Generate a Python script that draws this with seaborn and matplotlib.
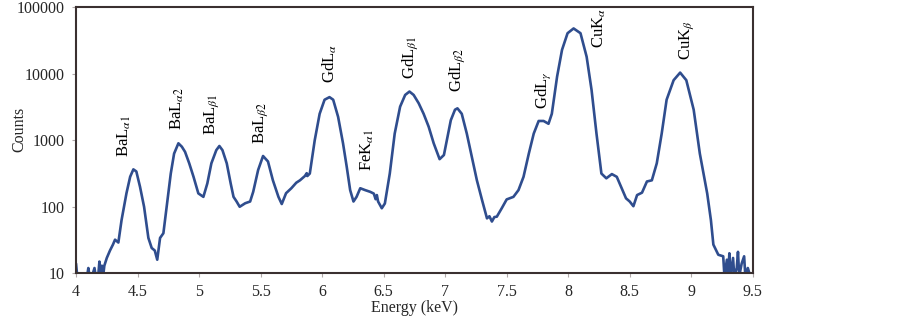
import numpy as np
import pandas as pd
import matplotlib
matplotlib.use("Agg")
import matplotlib.pyplot as plt
import seaborn as sns
from matplotlib.ticker import FixedLocator, FixedFormatter, NullLocator

energy = [4.00, 4.01, 4.03, 4.05, 4.07, 4.09, 4.10, 4.11, 4.13, 4.15, 4.16, 4.18, 4.19, 4.20,
          4.21, 4.22, 4.23, 4.25, 4.276, 4.30, 4.317, 4.344, 4.37, 4.41, 4.44, 4.466, 4.49, 4.52,
          4.553, 4.588, 4.615, 4.64, 4.66, 4.683, 4.71, 4.737, 4.77, 4.797, 4.832, 4.86, 4.886,
          4.92, 4.955, 4.994, 5.035, 5.067, 5.10, 5.14, 5.165, 5.19, 5.225, 5.257, 5.28, 5.305,
          5.33, 5.375, 5.415, 5.44, 5.48, 5.52, 5.56, 5.60, 5.645, 5.672, 5.707, 5.75, 5.79, 5.82,
          5.86, 5.875, 5.88, 5.90, 5.94, 5.98, 6.02, 6.06, 6.09, 6.13, 6.17, 6.20, 6.228, 6.255,
          6.28, 6.31, 6.35, 6.39, 6.42, 6.435, 6.445, 6.455, 6.485, 6.51, 6.55, 6.59, 6.634, 6.675,
          6.71, 6.744, 6.785, 6.825, 6.866, 6.907, 6.955, 6.99, 7.014, 7.046, 7.08, 7.10, 7.135,
          7.176, 7.217, 7.258, 7.30, 7.34, 7.36, 7.38, 7.40, 7.42, 7.44, 7.46, 7.50, 7.555, 7.596,
          7.637, 7.68, 7.72, 7.76, 7.80, 7.84, 7.867, 7.91, 7.95, 7.995, 8.044, 8.10, 8.15, 8.19,
          8.23, 8.27, 8.31, 8.355, 8.395, 8.435, 8.47, 8.50, 8.53, 8.56, 8.60, 8.64, 8.68, 8.72,
          8.76, 8.80, 8.857, 8.91, 8.96, 9.02, 9.07, 9.13, 9.16, 9.18, 9.22, 9.26, 9.27, 9.29,
          9.30, 9.31, 9.32, 9.34, 9.35, 9.37, 9.38, 9.39, 9.41, 9.43, 9.44, 9.46, 9.48, 9.50]
counts = [14, 9, 10, 9, 10, 9, 12, 9, 9, 12, 9, 9, 15, 9,
          13, 9, 13, 17, 22, 27, 32, 29, 63, 160, 283, 365, 340, 200,
          100, 34, 24, 22, 16, 34, 40, 100, 316, 630, 900, 800, 670,
          450, 282, 159, 141, 224, 450, 710, 820, 710, 450, 224, 141, 120,
          100, 113, 120, 168, 357, 580, 480, 250, 141, 110, 160, 190, 230, 250,
          290, 320, 290, 316, 1000, 2500, 4070, 4450, 4070, 2250, 900, 400, 178, 120,
          141, 190, 178, 168, 158, 130, 150, 120, 95, 112, 316, 1260, 3200, 4800,
          5400, 4800, 3600, 2500, 1600, 900, 520, 600, 1000, 2000, 2880, 3020, 2500,
          1260, 560, 250, 126, 67, 72, 60, 70, 71, 82, 95, 129, 141, 178,
          282, 630, 1260, 1950, 1950, 1770, 2500, 9100, 22900, 40700, 48000, 40700, 18000, 5700,
          1260, 316, 268, 310, 282, 190, 134, 120, 102, 150, 163, 240, 250, 450,
          1260, 4070, 8000, 10400, 8000, 2880, 630, 158, 63, 27, 19, 18, 9, 16,
          9, 20, 9, 17, 9, 12, 21, 9, 14, 18, 9, 12, 9, 10]

peak_labels = [r"BaL$_{\alpha1}$", r"BaL$_{\alpha2}$", r"BaL$_{\beta1}$", r"BaL$_{\beta2}$",
               r"GdL$_{\alpha}$", r"FeK$_{\alpha1}$", r"GdL$_{\beta1}$", r"GdL$_{\beta2}$",
               r"GdL$_{\gamma}$", r"CuK$_{\alpha}$", r"CuK$_{\beta}$"]
label_x = [4.39, 4.82, 5.10, 5.50, 6.06, 6.37, 6.72, 7.10, 7.80, 8.25, 8.96]
label_y = [560, 1430, 1200, 875, 7200, 340, 8300, 5400, 3000, 24000, 16000]

x_ticks = [4, 4.5, 5, 5.5, 6, 6.5, 7, 7.5, 8, 8.5, 9, 9.5]
x_tick_labels = ["4", "4.5", "5", "5.5", "6", "6.5", "7", "7.5", "8", "8.5", "9", "9.5"]
y_ticks = [10, 100, 1000, 10000, 100000]
y_tick_labels = ["10", "100", "1000", "10000", "100000"]

sns.set_style("ticks")
plt.rcParams["font.family"] = ["Liberation Serif", "DejaVu Serif"]
plt.rcParams["mathtext.fontset"] = "stix"

df = pd.DataFrame({"Energy": energy, "Counts": counts})

fig = plt.figure(figsize=(9.03, 3.19), dpi=100)
ax = fig.add_axes([0.0842, 0.1433, 0.7494, 0.834])
sns.lineplot(data=df, x="Energy", y="Counts", ax=ax, color="#2F4D8E", linewidth=1.9)
ax.set_yscale("log")
ax.set_xlim(4, 9.5)
ax.set_ylim(10, 100000)
ax.xaxis.set_major_locator(FixedLocator(x_ticks))
ax.xaxis.set_major_formatter(FixedFormatter(x_tick_labels))
ax.yaxis.set_major_locator(FixedLocator(y_ticks))
ax.yaxis.set_major_formatter(FixedFormatter(y_tick_labels))
ax.yaxis.set_minor_locator(NullLocator())
ax.tick_params(axis="both", labelsize=11.5, length=3, width=0.8, color="#b0a8a8", direction="out")
ax.tick_params(axis="x", pad=5)
ax.tick_params(axis="y", pad=5)
ax.set_xlabel("Energy (keV)", fontsize=11.5, labelpad=-0.5)
ax.set_ylabel("Counts", fontsize=11.5)
ax.yaxis.set_label_coords(-0.072, 0.54)
for s in ax.spines.values():
    s.set_visible(True)
    s.set_color("#3a3030")
    s.set_linewidth(1.5)

for lab, lx, ly in zip(peak_labels, label_x, label_y):
    ax.text(lx, ly, lab, rotation=90, ha="center", va="bottom", fontsize=12, color="black")

fig.savefig("out.png", dpi=100)
